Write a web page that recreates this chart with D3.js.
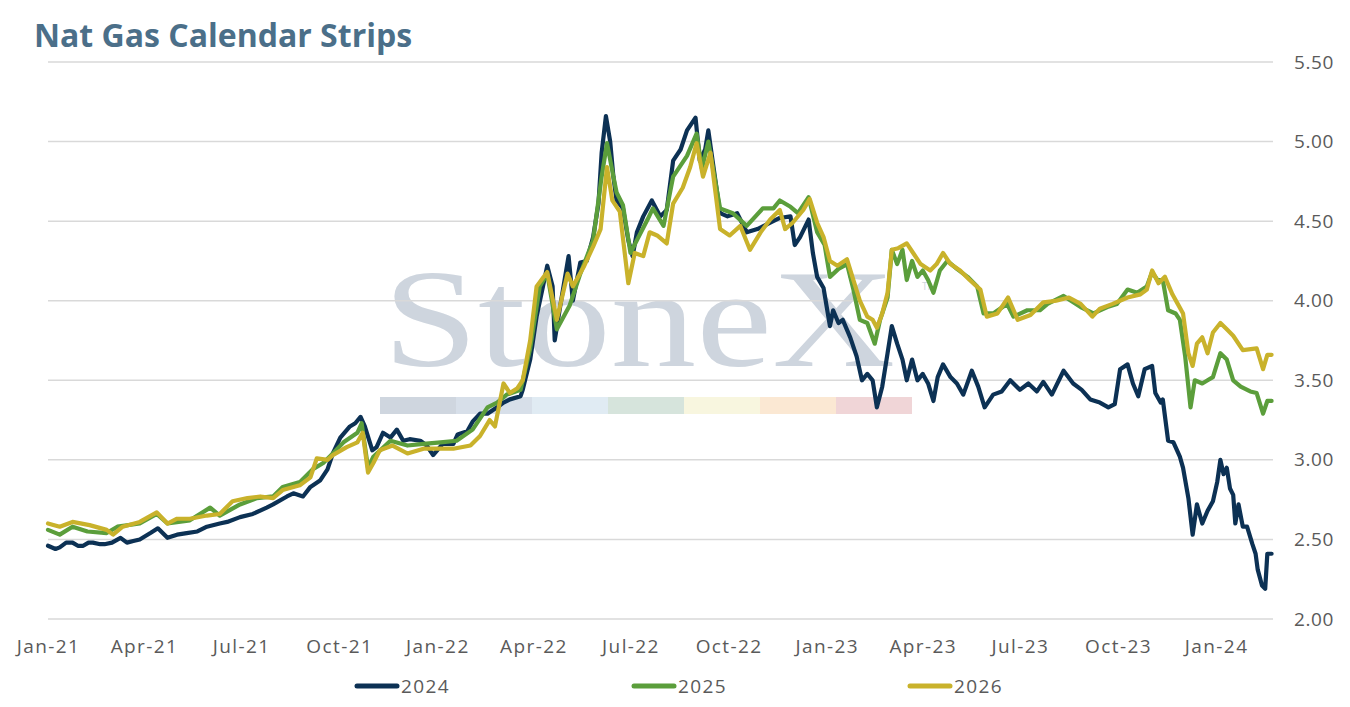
<!DOCTYPE html>
<html><head><meta charset="utf-8">
<script src="https://cdn.jsdelivr.net/npm/d3@7"></script>
<style>
html,body{margin:0;padding:0;background:#fff;}
svg{display:block;}
</style></head>
<body>
<svg id="chart" width="1350" height="707"></svg>
<script>
const chartTitle = "Nat Gas Calendar Strips";
const seriesNames = ["2024", "2025", "2026"];
const seriesColors = ["#0c3154", "#5b9e3b", "#c9b22b"];
const yTicks = [2.0, 2.5, 3.0, 3.5, 4.0, 4.5, 5.0, 5.5];
const xTickDates = ["2021-01-01","2021-04-01","2021-07-01","2021-10-01","2022-01-01","2022-04-01","2022-07-01","2022-10-01","2023-01-01","2023-04-01","2023-07-01","2023-10-01","2024-01-01"];
const watermarkColors = ["#cfd6df","#d7dfe9","#e0ebf3","#d6e4dc","#f8f6df","#fbe8d3","#f0d5d7"];

const series2024 = [["2021-01-01",2.46],["2021-01-08",2.44],["2021-01-12",2.45],["2021-01-18",2.48],["2021-01-24",2.48],["2021-01-29",2.46],["2021-02-03",2.46],["2021-02-08",2.48],["2021-02-12",2.48],["2021-02-19",2.47],["2021-02-23",2.47],["2021-03-02",2.48],["2021-03-10",2.51],["2021-03-16",2.48],["2021-03-22",2.49],["2021-03-28",2.50],["2021-04-07",2.54],["2021-04-14",2.57],["2021-04-23",2.51],["2021-05-02",2.53],["2021-05-11",2.54],["2021-05-21",2.55],["2021-05-30",2.58],["2021-06-11",2.60],["2021-06-18",2.61],["2021-06-30",2.64],["2021-07-12",2.66],["2021-07-25",2.70],["2021-07-31",2.72],["2021-08-13",2.77],["2021-08-19",2.79],["2021-08-28",2.77],["2021-09-04",2.83],["2021-09-13",2.87],["2021-09-20",2.94],["2021-09-25",3.04],["2021-10-02",3.14],["2021-10-11",3.21],["2021-10-16",3.23],["2021-10-21",3.27],["2021-10-25",3.21],["2021-11-01",3.06],["2021-11-05",3.08],["2021-11-11",3.17],["2021-11-18",3.14],["2021-11-24",3.19],["2021-11-30",3.12],["2021-12-06",3.13],["2021-12-16",3.12],["2021-12-22",3.09],["2021-12-28",3.03],["2022-01-06",3.10],["2022-01-16",3.10],["2022-01-20",3.16],["2022-01-29",3.18],["2022-02-03",3.24],["2022-02-10",3.29],["2022-02-17",3.29],["2022-02-26",3.33],["2022-03-04",3.36],["2022-03-10",3.38],["2022-03-20",3.40],["2022-03-22",3.44],["2022-03-29",3.63],["2022-04-04",3.90],["2022-04-10",4.09],["2022-04-14",4.22],["2022-04-19",4.09],["2022-04-21",3.75],["2022-04-26",3.96],["2022-05-04",4.28],["2022-05-08",4.00],["2022-05-15",4.24],["2022-05-21",4.25],["2022-05-27",4.40],["2022-06-01",4.61],["2022-06-04",4.93],["2022-06-08",5.16],["2022-06-12",5.00],["2022-06-15",4.78],["2022-06-18",4.63],["2022-06-24",4.58],["2022-06-29",4.38],["2022-07-03",4.28],["2022-07-07",4.43],["2022-07-13",4.53],["2022-07-21",4.63],["2022-07-29",4.53],["2022-08-04",4.57],["2022-08-10",4.88],["2022-08-17",4.95],["2022-08-23",5.07],["2022-08-31",5.15],["2022-09-04",4.88],["2022-09-09",4.95],["2022-09-12",5.07],["2022-09-16",4.88],["2022-09-23",4.55],["2022-09-30",4.53],["2022-10-09",4.55],["2022-10-18",4.43],["2022-10-28",4.45],["2022-11-09",4.49],["2022-11-18",4.52],["2022-11-28",4.53],["2022-12-02",4.35],["2022-12-07",4.40],["2022-12-15",4.51],["2022-12-19",4.30],["2022-12-23",4.15],["2022-12-29",4.08],["2023-01-01",3.96],["2023-01-04",3.84],["2023-01-07",3.94],["2023-01-12",3.86],["2023-01-16",3.88],["2023-01-23",3.77],["2023-01-29",3.65],["2023-02-03",3.50],["2023-02-08",3.54],["2023-02-13",3.50],["2023-02-17",3.33],["2023-02-22",3.46],["2023-02-27",3.67],["2023-03-03",3.84],["2023-03-08",3.73],["2023-03-13",3.63],["2023-03-17",3.50],["2023-03-22",3.63],["2023-03-27",3.50],["2023-04-01",3.54],["2023-04-06",3.48],["2023-04-11",3.37],["2023-04-15",3.52],["2023-04-20",3.60],["2023-04-27",3.52],["2023-05-03",3.48],["2023-05-09",3.41],["2023-05-17",3.56],["2023-05-23",3.46],["2023-05-29",3.33],["2023-06-06",3.41],["2023-06-14",3.43],["2023-06-22",3.50],["2023-07-01",3.44],["2023-07-09",3.48],["2023-07-17",3.43],["2023-07-23",3.49],["2023-07-31",3.41],["2023-08-11",3.56],["2023-08-20",3.48],["2023-08-28",3.44],["2023-09-05",3.38],["2023-09-14",3.36],["2023-09-22",3.33],["2023-09-28",3.35],["2023-10-03",3.57],["2023-10-10",3.60],["2023-10-15",3.48],["2023-10-20",3.40],["2023-10-26",3.57],["2023-11-02",3.59],["2023-11-05",3.42],["2023-11-10",3.36],["2023-11-12",3.38],["2023-11-17",3.12],["2023-11-22",3.11],["2023-11-28",3.02],["2023-12-01",2.95],["2023-12-06",2.76],["2023-12-10",2.53],["2023-12-14",2.72],["2023-12-19",2.60],["2023-12-24",2.68],["2023-12-29",2.74],["2024-01-02",2.86],["2024-01-05",3.00],["2024-01-08",2.91],["2024-01-11",2.95],["2024-01-14",2.82],["2024-01-17",2.78],["2024-01-19",2.60],["2024-01-22",2.72],["2024-01-26",2.58],["2024-01-30",2.58],["2024-02-04",2.47],["2024-02-07",2.41],["2024-02-09",2.31],["2024-02-13",2.21],["2024-02-16",2.19],["2024-02-18",2.41],["2024-02-22",2.41]];

const series2025 = [["2021-01-01",2.56],["2021-01-12",2.53],["2021-01-24",2.58],["2021-02-07",2.55],["2021-02-25",2.54],["2021-03-07",2.58],["2021-03-28",2.60],["2021-04-13",2.66],["2021-04-23",2.60],["2021-05-14",2.62],["2021-06-02",2.70],["2021-06-11",2.65],["2021-06-30",2.72],["2021-07-16",2.76],["2021-07-31",2.77],["2021-08-09",2.83],["2021-08-25",2.86],["2021-09-06",2.94],["2021-09-16",2.98],["2021-09-25",3.04],["2021-10-05",3.11],["2021-10-18",3.17],["2021-10-22",3.23],["2021-10-28",2.95],["2021-11-02",3.02],["2021-11-18",3.12],["2021-12-04",3.09],["2021-12-19",3.10],["2022-01-04",3.11],["2022-01-19",3.12],["2022-02-03",3.19],["2022-02-17",3.33],["2022-02-26",3.36],["2022-03-07",3.41],["2022-03-20",3.44],["2022-03-29",3.70],["2022-04-07",4.09],["2022-04-14",4.17],["2022-04-23",3.82],["2022-05-05",3.97],["2022-05-15",4.17],["2022-05-27",4.38],["2022-06-04",4.78],["2022-06-09",4.99],["2022-06-15",4.78],["2022-06-18",4.68],["2022-06-24",4.60],["2022-07-01",4.30],["2022-07-07",4.38],["2022-07-17",4.51],["2022-07-22",4.58],["2022-08-01",4.47],["2022-08-10",4.78],["2022-08-23",4.91],["2022-09-01",5.05],["2022-09-06",4.83],["2022-09-12",5.00],["2022-09-23",4.58],["2022-10-05",4.55],["2022-10-18",4.47],["2022-11-02",4.58],["2022-11-12",4.58],["2022-11-18",4.63],["2022-11-28",4.59],["2022-12-05",4.55],["2022-12-15",4.65],["2022-12-23",4.43],["2022-12-30",4.35],["2023-01-04",4.15],["2023-01-12",4.20],["2023-01-20",4.23],["2023-01-26",4.07],["2023-02-01",3.88],["2023-02-08",3.86],["2023-02-15",3.73],["2023-02-20",3.88],["2023-02-27",4.02],["2023-03-03",4.32],["2023-03-08",4.23],["2023-03-13",4.32],["2023-03-17",4.13],["2023-03-22",4.25],["2023-03-27",4.15],["2023-04-01",4.19],["2023-04-06",4.13],["2023-04-11",4.05],["2023-04-17",4.19],["2023-04-24",4.25],["2023-05-03",4.20],["2023-05-13",4.15],["2023-05-22",4.09],["2023-05-28",3.92],["2023-06-06",3.92],["2023-06-19",3.98],["2023-06-25",3.90],["2023-07-08",3.94],["2023-07-20",3.94],["2023-07-27",3.98],["2023-08-11",4.03],["2023-08-27",3.96],["2023-09-08",3.92],["2023-09-21",3.96],["2023-09-30",3.98],["2023-10-10",4.07],["2023-10-19",4.05],["2023-10-28",4.09],["2023-11-02",4.18],["2023-11-07",4.13],["2023-11-12",4.13],["2023-11-17",3.94],["2023-11-24",3.92],["2023-11-28",3.88],["2023-12-03",3.65],["2023-12-08",3.33],["2023-12-12",3.50],["2023-12-19",3.48],["2023-12-24",3.50],["2023-12-29",3.52],["2024-01-05",3.67],["2024-01-11",3.63],["2024-01-17",3.50],["2024-01-24",3.46],["2024-02-02",3.43],["2024-02-08",3.42],["2024-02-14",3.29],["2024-02-18",3.37],["2024-02-22",3.37]];

const series2026 = [["2021-01-01",2.60],["2021-01-12",2.58],["2021-01-24",2.61],["2021-02-09",2.59],["2021-02-25",2.56],["2021-03-03",2.53],["2021-03-12",2.58],["2021-03-28",2.61],["2021-04-13",2.67],["2021-04-23",2.60],["2021-05-02",2.63],["2021-05-14",2.63],["2021-05-30",2.65],["2021-06-11",2.66],["2021-06-23",2.74],["2021-07-07",2.76],["2021-07-19",2.77],["2021-07-31",2.76],["2021-08-09",2.81],["2021-08-25",2.84],["2021-09-04",2.89],["2021-09-10",3.01],["2021-09-20",3.00],["2021-09-25",3.03],["2021-10-08",3.08],["2021-10-18",3.11],["2021-10-23",3.17],["2021-10-28",2.92],["2021-11-02",2.98],["2021-11-08",3.06],["2021-11-20",3.09],["2021-12-04",3.04],["2021-12-19",3.07],["2022-01-04",3.07],["2022-01-16",3.07],["2022-02-01",3.09],["2022-02-10",3.15],["2022-02-19",3.25],["2022-02-24",3.21],["2022-03-04",3.48],["2022-03-10",3.42],["2022-03-17",3.45],["2022-03-22",3.50],["2022-03-29",3.75],["2022-04-04",4.09],["2022-04-14",4.18],["2022-04-23",3.88],["2022-05-03",4.17],["2022-05-08",4.09],["2022-05-18",4.21],["2022-05-27",4.34],["2022-06-03",4.45],["2022-06-09",4.84],["2022-06-14",4.63],["2022-06-21",4.56],["2022-06-29",4.11],["2022-07-05",4.30],["2022-07-13",4.28],["2022-07-19",4.43],["2022-07-26",4.41],["2022-08-04",4.36],["2022-08-10",4.61],["2022-08-19",4.71],["2022-08-26",4.84],["2022-09-01",4.99],["2022-09-07",4.78],["2022-09-14",4.93],["2022-09-23",4.45],["2022-10-02",4.41],["2022-10-12",4.47],["2022-10-21",4.32],["2022-10-31",4.43],["2022-11-09",4.51],["2022-11-18",4.57],["2022-11-23",4.45],["2022-11-30",4.49],["2022-12-10",4.57],["2022-12-16",4.64],["2022-12-23",4.49],["2022-12-29",4.40],["2023-01-04",4.25],["2023-01-11",4.22],["2023-01-20",4.26],["2023-01-26",4.13],["2023-02-01",4.00],["2023-02-08",3.90],["2023-02-13",3.88],["2023-02-17",3.83],["2023-02-22",3.92],["2023-02-27",4.05],["2023-03-03",4.32],["2023-03-09",4.33],["2023-03-17",4.36],["2023-03-23",4.30],["2023-03-30",4.23],["2023-04-08",4.19],["2023-04-14",4.23],["2023-04-20",4.30],["2023-04-27",4.23],["2023-05-06",4.19],["2023-05-15",4.13],["2023-05-25",4.07],["2023-05-31",3.90],["2023-06-10",3.92],["2023-06-20",4.02],["2023-06-29",3.88],["2023-07-11",3.91],["2023-07-23",3.99],["2023-08-04",4.00],["2023-08-16",4.02],["2023-08-27",3.98],["2023-09-07",3.90],["2023-09-14",3.95],["2023-09-26",3.98],["2023-10-10",4.02],["2023-10-22",4.04],["2023-10-28",4.07],["2023-11-02",4.19],["2023-11-08",4.11],["2023-11-14",4.15],["2023-11-21",4.04],["2023-11-26",3.98],["2023-12-01",3.92],["2023-12-06",3.67],["2023-12-10",3.59],["2023-12-14",3.73],["2023-12-19",3.77],["2023-12-24",3.67],["2023-12-29",3.80],["2024-01-05",3.86],["2024-01-11",3.82],["2024-01-17",3.78],["2024-01-26",3.69],["2024-02-08",3.70],["2024-02-14",3.57],["2024-02-18",3.66],["2024-02-22",3.66]];

const allSeries = [series2024, series2025, series2026];

const parse = d3.timeParse("%Y-%m-%d");
const svg = d3.select("#chart");
const FONT = "'Open Sans', 'Noto Sans', sans-serif";

const x = d3.scaleTime()
  .domain([parse("2021-01-01"), parse("2024-02-28")])
  .range([48, 1278]);
const y = d3.scaleLinear().domain([2, 5.5]).range([619, 62]);

// Title
svg.append("text").attr("x", 34).attr("y", 47)
  .attr("font-family", FONT).attr("font-weight", 700).attr("font-size", 32)
  .attr("fill", "#4b6f89").text(chartTitle);

// Watermark
const wm = svg.append("g");
wm.append("text")
  .attr("transform", "translate(383,366) scale(1.22,1)")
  .attr("font-family", "'Liberation Serif', 'Times New Roman', serif")
  .attr("font-size", 140).attr("fill", "#ced5de")
  .text("StoneX");
wm.append("text").attr("x", 922).attr("y", 290)
  .attr("font-family", FONT).attr("font-size", 10).attr("fill", "#ced5de").text("TM");
const band = d3.scaleBand().domain(d3.range(watermarkColors.length)).range([380, 912]);
wm.selectAll("rect").data(watermarkColors).join("rect")
  .attr("x", (d, i) => band(i)).attr("y", 397)
  .attr("width", band.bandwidth()).attr("height", 17).attr("fill", d => d);

// Gridlines
svg.append("g").selectAll("line").data(yTicks).join("line")
  .attr("x1", 48).attr("x2", 1273)
  .attr("y1", d => y(d)).attr("y2", d => y(d))
  .attr("stroke", "#d9d9d9").attr("stroke-width", 1.5);

// Right axis
const yAxis = d3.axisRight(y).tickValues(yTicks).tickFormat(d3.format(".2f")).tickSize(0).tickPadding(0);
const ya = svg.append("g").attr("transform", "translate(1294,0)").call(yAxis);
ya.select(".domain").remove();
ya.selectAll("text").attr("font-family", FONT).attr("font-size", 19)
  .attr("letter-spacing", "0.6px").attr("fill", "#5a5a5a");

// X axis
const xAxis = d3.axisBottom(x).tickValues(xTickDates.map(parse))
  .tickFormat(d3.timeFormat("%b-%y")).tickSize(0).tickPadding(0);
const xa = svg.append("g").attr("transform", "translate(0,639)").call(xAxis);
xa.select(".domain").remove();
xa.selectAll("text").attr("font-family", FONT).attr("font-size", 19)
  .attr("letter-spacing", "1.4px").attr("fill", "#5a5a5a");

// Lines
const line = d3.line().x(d => x(parse(d[0]))).y(d => y(d[1]));
svg.append("g").selectAll("path").data(allSeries).join("path")
  .attr("d", line).attr("fill", "none")
  .attr("stroke", (d, i) => seriesColors[i]).attr("stroke-width", 4.2)
  .attr("stroke-linejoin", "round").attr("stroke-linecap", "round");

// Legend
const legendX = [355, 632, 908];
const lg = svg.append("g").selectAll("g").data(seriesNames).join("g")
  .attr("transform", (d, i) => `translate(${legendX[i]},686)`);
lg.append("line").attr("x1", 2).attr("x2", 42).attr("y1", 0).attr("y2", 0)
  .attr("stroke", (d, i) => seriesColors[i]).attr("stroke-width", 5).attr("stroke-linecap", "round");
lg.append("text").attr("x", 46).attr("y", 0).attr("dy", "0.36em")
  .attr("font-family", FONT).attr("font-size", 19).attr("letter-spacing", "1.4px")
  .attr("fill", "#5a5a5a").text(d => d);
</script>
</body></html>
